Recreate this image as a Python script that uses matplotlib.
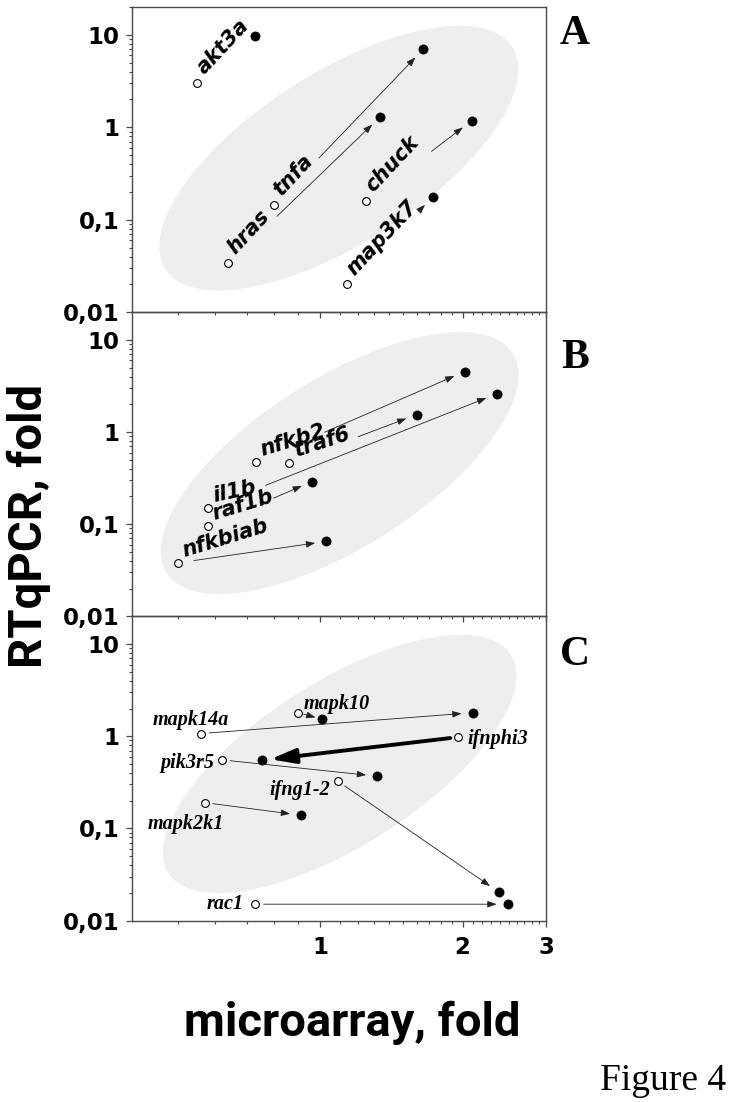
import numpy as np
import matplotlib
matplotlib.use("Agg")
import matplotlib.pyplot as plt
from matplotlib.patches import Polygon
from matplotlib.ticker import FixedLocator, NullFormatter, FixedFormatter

# ---------------- data ----------------
# Panel A
genes_a = ["akt3a", "tnfa", "hras", "chuck", "map3k7"]
a_open_x = [0.55, 0.80, 0.64, 1.25, 1.14]
a_open_y = [3.0, 0.146, 0.034, 0.158, 0.020]
a_fill_x = [0.73, 1.65, 1.34, 2.09, 1.73]
a_fill_y = [9.6, 6.95, 1.30, 1.18, 0.177]

# Panel B
genes_b = ["nfkb2", "traf6", "il1b", "raf1b", "nfkbiab"]
b_open_x = [0.731, 0.861, 0.579, 0.579, 0.50]
b_open_y = [0.473, 0.466, 0.149, 0.095, 0.038]
b_fill_x = [2.02, 1.60, 2.36, 0.962, 1.03]
b_fill_y = [4.54, 1.55, 2.60, 0.29, 0.065]

# Panel C
genes_c = ["mapk10", "mapk14a", "ifnphi3", "pik3r5", "ifng1-2", "mapk2k1", "rac1"]
c_open_x = [0.90, 0.56, 1.96, 0.62, 1.09, 0.57, 0.73]
c_open_y = [1.80, 1.07, 0.98, 0.555, 0.326, 0.191, 0.0151]
c_fill_x = [1.01, 2.10, 0.754, 1.32, 2.39, 0.912, 2.49]
c_fill_y = [1.53, 1.80, 0.55, 0.369, 0.0203, 0.139, 0.0151]

y_ticks = [0.01, 0.1, 1, 10]
y_ticklabels = ["0,01", "0,1", "1", "10"]
x_ticks = [1, 2, 3]
x_ticklabels = ["1", "2", "3"]
panel_letters = ["A", "B", "C"]

# ---------------- layout / style ----------------
W, H = 732, 1102
DPI = 100
fig = plt.figure(figsize=(W / DPI, H / DPI), dpi=DPI)

ax_left_px, ax_right_px = 131.7, 546.0
panel_edges_px = [7.0, 312.3, 616.3, 920.7]

# arrow start fractions (along the line open->filled, in log space)
a_arrow_t = [None, 0.30, 0.32, 0.62, 0.85]
b_arrow_t = [0.33, 0.54, 0.20, 0.63, 0.11]

# label offsets in pixels
a_lab = dict(dx=7, dy=8, rot=47)
b_lab_rot = [17, 18, 12, 17, 17]
c_lab = [  # dx, dy, ha, va
    (5, 4, "left", "baseline"),
    (-10, 9, "center", "baseline"),
    (9, -2, "left", "center"),
    (-7, -3, "right", "center"),
    (-8, -9, "right", "center"),
    (-19, -21, "center", "center"),
    (-12, 0, "right", "center"),
]

ellipses = [  # cx_frac, cy_frac, a_px, b_px, angle_deg
    (0.500, 0.505, 206, 85.5, 32.6),
    (0.502, 0.504, 205, 84.5, 32.4),
    (0.502, 0.515, 203, 82.0, 32.5),
]

spine_col = "#4a4a4a"
arrow_col = "#222222"
ell_col = "#eeeeee"
sans_it = dict(family="DejaVu Sans", weight="bold", style="italic")
serif_it = dict(family="Liberation Serif", weight="bold", style="italic")

axes = []
for i in range(3):
    top, bot = panel_edges_px[i], panel_edges_px[i + 1]
    rect = [ax_left_px / W, 1 - bot / H, (ax_right_px - ax_left_px) / W, (bot - top) / H]
    ax = fig.add_axes(rect)
    ax.set_facecolor("none")
    ax.set_xscale("log")
    ax.set_yscale("log")
    ax.set_xlim(0.4, 3)
    ax.set_ylim(0.01, 20)
    for s in ax.spines.values():
        s.set_color(spine_col)
        s.set_linewidth(1.0)
    ax.yaxis.set_major_locator(FixedLocator(y_ticks))
    ax.yaxis.set_major_formatter(FixedFormatter(y_ticklabels))
    yminor = [m * 10.0 ** e for e in range(-2, 1 + 1) for m in range(2, 10)]
    ax.yaxis.set_minor_locator(FixedLocator(yminor))
    ax.yaxis.set_minor_formatter(NullFormatter())
    ax.xaxis.set_major_locator(FixedLocator(x_ticks))
    xminor = [0.5, 0.6, 0.7, 0.8, 0.9] + [1 + 0.1 * k for k in range(1, 10)] + [2 + 0.1 * k for k in range(1, 10)]
    ax.xaxis.set_minor_locator(FixedLocator(xminor))
    ax.xaxis.set_minor_formatter(NullFormatter())
    if i == 2:
        ax.xaxis.set_major_formatter(FixedFormatter(x_ticklabels))
    else:
        ax.xaxis.set_major_formatter(NullFormatter())
    ax.tick_params(which="major", direction="out", length=4, width=0.9, color=spine_col,
                   labelsize=16.5, pad=5)
    ax.tick_params(which="minor", direction="out", length=2.5, width=0.8, color=spine_col)
    ax.tick_params(axis="x", which="major", pad=7)
    for lab in ax.get_yticklabels() + ax.get_xticklabels():
        lab.set_fontweight("bold")
        lab.set_family("DejaVu Sans")
    # ellipse background
    cxf, cyf, ea, eb, ang = ellipses[i]
    wpx = ax_right_px - ax_left_px
    hpx = bot - top
    t = np.linspace(0, 2 * np.pi, 200)
    th = np.deg2rad(ang)
    px = ea * np.cos(t) * np.cos(th) - eb * np.sin(t) * np.sin(th)
    py = ea * np.cos(t) * np.sin(th) + eb * np.sin(t) * np.cos(th)
    poly = Polygon(np.column_stack([cxf + px / wpx, cyf + py / hpx]), closed=True,
                   transform=ax.transAxes, facecolor=ell_col, edgecolor="none", zorder=0)
    ax.add_patch(poly)
    axes.append(ax)


def draw_arrow(ax, x0, y0, x1, y1, tfrac=None, shrinkA=5, shrinkB=8, lw=0.6,
               style="-|>,head_length=0.55,head_width=0.2", ms=10, color=arrow_col):
    if tfrac is not None:
        xs = x0 * (x1 / x0) ** tfrac
        ys = y0 * (y1 / y0) ** tfrac
        sA = 0
    else:
        xs, ys, sA = x0, y0, shrinkA
    ax.annotate("", xy=(x1, y1), xytext=(xs, ys),
                arrowprops=dict(arrowstyle=style, color=color, lw=lw, shrinkA=sA,
                                shrinkB=shrinkB, mutation_scale=ms), zorder=2)


def draw_points(ax, ox, oy, fx, fy):
    ax.plot(ox, oy, linestyle="none", marker="o", ms=5.6, mfc="white", mec="black",
            mew=0.8, zorder=4)
    ax.plot(fx, fy, linestyle="none", marker="o", ms=6.6, mfc="black", mec="black",
            mew=0.5, zorder=4)


# Panel A
ax = axes[0]
for g, x0, y0, x1, y1, tf in zip(genes_a, a_open_x, a_open_y, a_fill_x, a_fill_y, a_arrow_t):
    if tf is not None:
        draw_arrow(ax, x0, y0, x1, y1, tfrac=tf)
    ax.annotate(g, xy=(x0, y0), xytext=(a_lab["dx"], a_lab["dy"]), textcoords="offset pixels",
                rotation=a_lab["rot"], rotation_mode="anchor", ha="left", va="baseline",
                fontsize=15, zorder=5, **sans_it)
draw_points(ax, a_open_x, a_open_y, a_fill_x, a_fill_y)

# Panel B
ax = axes[1]
for g, x0, y0, x1, y1, tf, rot in zip(genes_b, b_open_x, b_open_y, b_fill_x, b_fill_y,
                                      b_arrow_t, b_lab_rot):
    draw_arrow(ax, x0, y0, x1, y1, tfrac=tf)
    ax.annotate(g, xy=(x0, y0), xytext=(7, 6), textcoords="offset pixels",
                rotation=rot, rotation_mode="anchor", ha="left", va="baseline",
                fontsize=15, zorder=5, **sans_it)
draw_points(ax, b_open_x, b_open_y, b_fill_x, b_fill_y)

# Panel C
ax = axes[2]
for k, (g, x0, y0, x1, y1) in enumerate(zip(genes_c, c_open_x, c_open_y, c_fill_x, c_fill_y)):
    if g == "ifnphi3":
        draw_arrow(ax, x0, y0, x1, y1, shrinkA=6, shrinkB=6, lw=2.8,
                   style="-|>,head_length=0.75,head_width=0.22", ms=20, color="black")
    elif g == "mapk10":
        draw_arrow(ax, x0, y0, x1, y1, shrinkA=4, shrinkB=5)
    else:
        draw_arrow(ax, x0, y0, x1, y1, shrinkA=6, shrinkB=8)
    dx, dy, ha, va = c_lab[k]
    ax.annotate(g, xy=(x0, y0), xytext=(dx, dy), textcoords="offset pixels",
                ha=ha, va=va, fontsize=14.5, zorder=5, **serif_it)
draw_points(ax, c_open_x, c_open_y, c_fill_x, c_fill_y)

# panel letters
letter_y = [34, 358, 655]
for L, yy in zip(panel_letters, letter_y):
    fig.text(575 / W, 1 - yy / H, L, ha="center", va="center", fontsize=30,
             family="Liberation Serif", weight="bold")

# axis titles
fig.text(29 / W, 1 - 526 / H, "RTqPCR, fold", rotation=90, ha="center", va="center",
         fontsize=34, family="Roboto", weight="bold")
fig.text(352 / W, 1 - 1036 / H, "microarray, fold", ha="center", va="baseline",
         fontsize=34, family="Roboto", weight="bold")
fig.text(726 / W, 1 - 1090 / H, "Figure 4", ha="right", va="baseline",
         fontsize=27, family="Liberation Serif")

fig.savefig("out.png", dpi=DPI)
